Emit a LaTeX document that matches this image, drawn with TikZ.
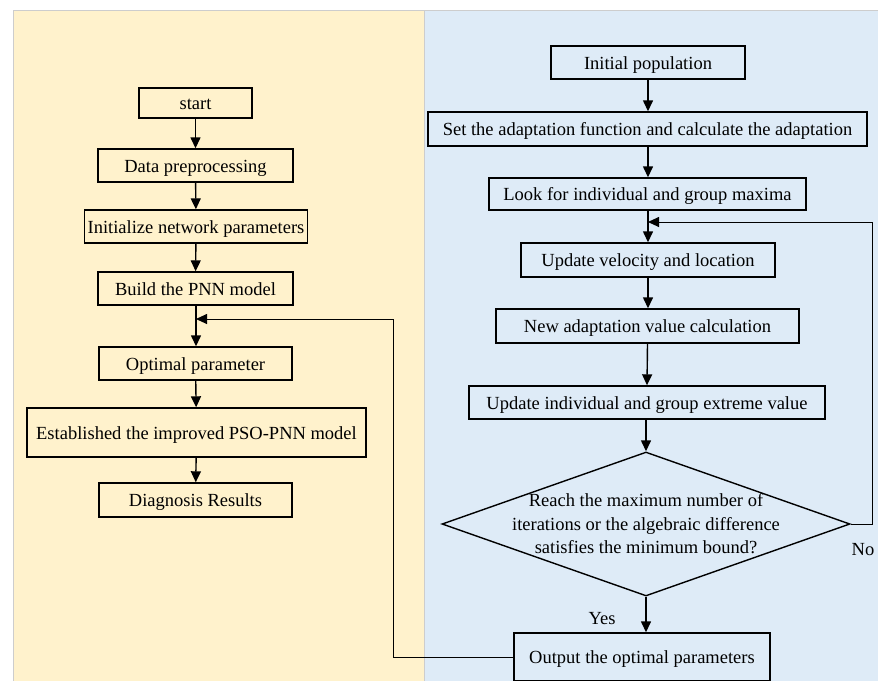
\documentclass[tikz,border=0pt]{standalone}
\usepackage{fontspec}
\setmainfont{Liberation Serif}
\usetikzlibrary{arrows.meta,shapes.geometric,calc}

\definecolor{panelyellow}{RGB}{255,242,204}
\definecolor{panelblue}{RGB}{222,235,247}
\definecolor{paneledge}{RGB}{205,205,205}

\tikzset{
  stepbox/.style={draw=black, line width=1.4pt, rectangle, inner sep=0pt,
    font=\fontsize{18.5}{23}\selectfont, text height=15.5pt, text depth=2.5pt,
    anchor=center},
  flow/.style={line width=1.4pt, -{Triangle[length=11pt,width=10pt]}},
  back/.style={line width=0.9pt, -{Triangle[length=11pt,width=10pt]}},
  tag/.style={font=\fontsize{18.5}{23}\selectfont, inner sep=0pt}
}

\begin{document}
\begin{tikzpicture}[x=1pt,y=-1pt]
\useasboundingbox (0,0) rectangle (878,680);

% two background panels
\fill[panelyellow] (13,10) rectangle (424,682);
\fill[panelblue] (424,10) rectangle (880,682);
\draw[paneledge, line width=0.9pt] (13,682) -- (13,10) -- (880,10);
\draw[paneledge, line width=0.9pt] (424,10) -- (424,682);

% left column: PNN model
\node[stepbox, minimum width=113pt, minimum height=30pt] (start) at (195.5,103) {start};
\node[stepbox, minimum width=195pt, minimum height=33pt] (data) at (195.5,165.5) {Data preprocessing};
\node[stepbox, minimum width=223pt, minimum height=33pt] (init) at (196,226.5) {Initialize network parameters};
\node[stepbox, minimum width=195pt, minimum height=33pt] (build) at (195.5,288.5) {Build the PNN model};
\node[stepbox, minimum width=193pt, minimum height=33pt] (opt) at (195.5,363.5) {Optimal parameter};
\node[stepbox, minimum width=339pt, minimum height=49pt] (est) at (196.5,432.5) {Established the improved PSO-PNN model};
\node[stepbox, minimum width=193pt, minimum height=34pt] (diag) at (195.5,500) {Diagnosis Results};

% right column: PSO optimisation
\node[stepbox, minimum width=194pt, minimum height=33pt] (pop) at (648,62.5) {Initial population};
\node[stepbox, minimum width=439pt, minimum height=34pt] (fit) at (647.5,129) {Set the adaptation function and calculate the adaptation};
\node[stepbox, minimum width=317pt, minimum height=32pt] (look) at (647.5,194) {Look for individual and group maxima};
\node[stepbox, minimum width=254pt, minimum height=34pt] (vel) at (648,260) {Update velocity and location};
\node[stepbox, minimum width=303pt, minimum height=34pt] (newad) at (647.5,326) {New adaptation value calculation};
\node[stepbox, minimum width=356pt, minimum height=33pt] (upd) at (647,402.5) {Update individual and group extreme value};
\node[draw=black, line width=1.4pt, diamond, inner sep=0pt, minimum width=408pt, minimum height=144pt] (dec) at (646,524) {};
\node[tag, align=center, font=\fontsize{18.5}{23.5}\selectfont] (dectext) at (dec.center) {Reach the maximum number of\\iterations or the algebraic difference\\satisfies the minimum bound?};
\node[stepbox, minimum width=256pt, minimum height=48pt] (out) at (642,657) {Output the optimal parameters};

% junction points of the two feedback loops
\coordinate (joinL) at (196,319);
\coordinate (joinR) at (648,222);
\coordinate (noturn) at (872,524);
\coordinate (backturn) at (393,657);

% left column arrows
\draw[flow] (start) -- (data);
\draw[flow] (data) -- (init);
\draw[flow] (init) -- (build);
\draw[flow] (build.south -| joinL) -- (opt.north -| joinL);
\draw[flow] (opt) -- (est);
\draw[flow] (est) -- (diag);

% right column arrows
\draw[flow] (pop) -- (pop.south |- fit.north);
\draw[flow] (fit.south -| pop) -- (look.north -| pop);
\draw[flow] (look.south -| joinR) -- (vel.north -| joinR);
\draw[flow] (vel) -- (newad.north -| vel);
\draw[flow] (newad.south) -- (upd.north);
\draw[flow] (upd.south -| dec) -- (dec.north);
\draw[flow] (dec.south) -- (dec.south |- out.north);

% feedback loops
\draw[back] (dec.east) -- (noturn) |- (joinR);
\draw[back] (out.west) -- (backturn) |- (joinL);

% branch labels
\node[tag] (no) at (863,550) {No};
\node[tag] (yes) at (602,619) {Yes};
\end{tikzpicture}
\end{document}
